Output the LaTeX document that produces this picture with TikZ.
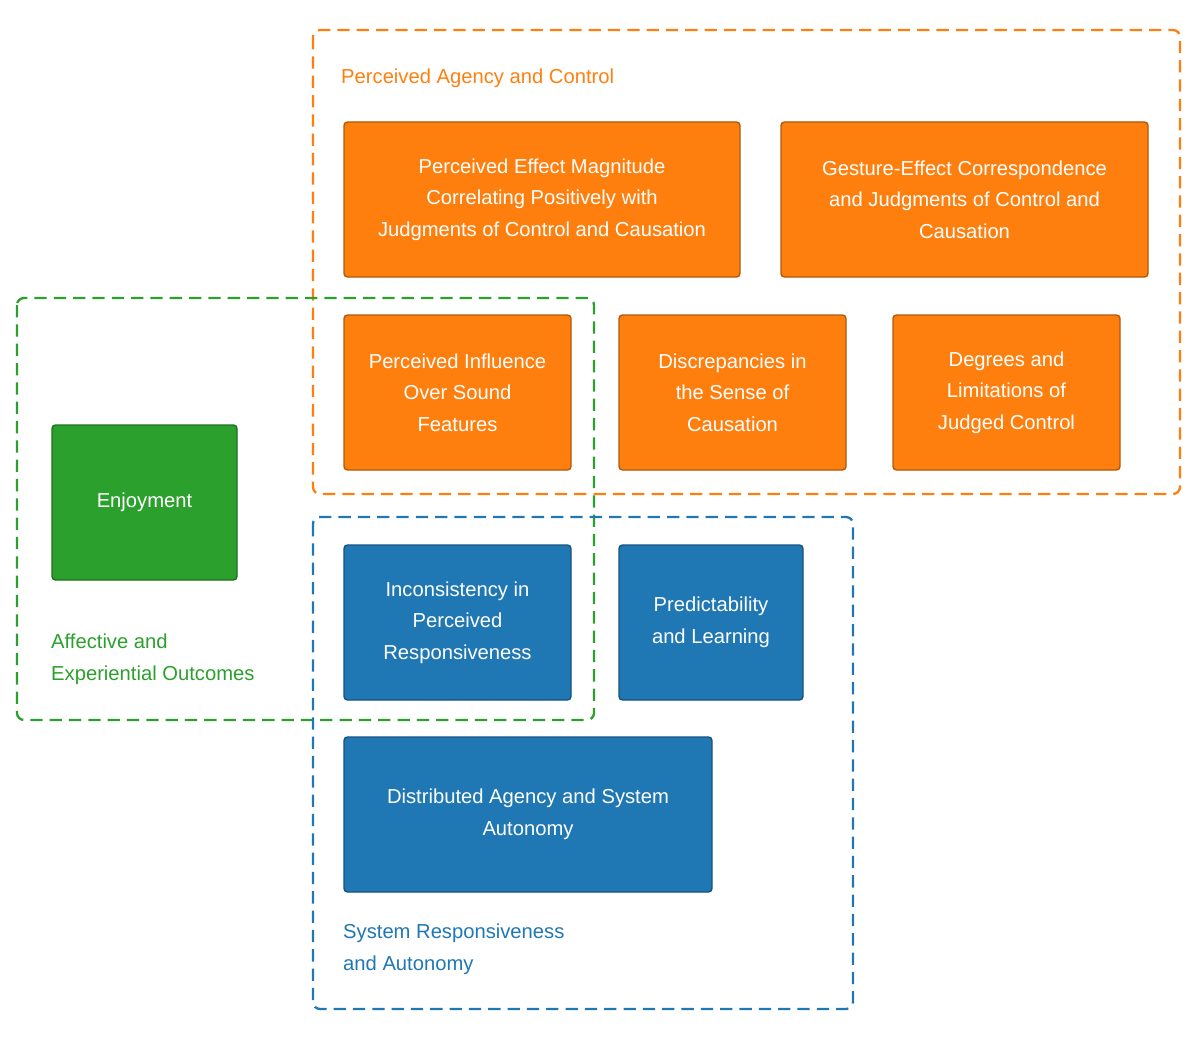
\documentclass[tikz,border=0pt]{standalone}
\usepackage{fontspec}
\setmainfont{Liberation Sans}
\begin{document}
\begin{tikzpicture}[x=0.02cm,y=-0.02cm,
  grp/.style={draw=#1,dashed,line width=1.3pt,rounded corners=4pt,dash pattern=on 7pt off 4pt},
  bx/.style={fill=#1,draw=#1!70!black,line width=0.8pt,rounded corners=2pt,text=white,align=center,font=\fontsize{11.5}{18}\selectfont},
  lbl/.style={text=#1,anchor=north west,align=left,font=\fontsize{11.5}{18}\selectfont}]
\definecolor{cor}{HTML}{FF7F0E}\definecolor{cgr}{HTML}{2CA02C}\definecolor{cbl}{HTML}{1F77B4}
\useasboundingbox (0,0) rectangle (1200,1037);
\draw[grp=cor] (313,30) rectangle (1180,494);
\node[lbl=cor] (la) at (335,63) {Perceived Agency and Control};
\draw[grp=cgr] (17,298) rectangle (594,720);
\node[lbl=cgr] (lb) at (45,628) {Affective and\\Experiential Outcomes};
\draw[grp=cbl] (313,517) rectangle (853,1009);
\node[lbl=cbl] (lc) at (337,918) {System Responsiveness\\and Autonomy};
\newcommand\bxat[6]{\path[bx=#5] (#1,#2) rectangle (#3,#4) node[bx=#5,fill=none,draw=none,midway] {#6};}
\bxat{344}{122}{740}{277}{cor}{Perceived Effect Magnitude\\Correlating Positively with\\Judgments of Control and Causation}
\bxat{781}{122}{1148}{277}{cor}{Gesture-Effect Correspondence\\and Judgments of Control and\\Causation}
\bxat{344}{315}{571}{470}{cor}{Perceived Influence\\Over Sound\\Features}
\bxat{619}{315}{846}{470}{cor}{Discrepancies in\\the Sense of\\Causation}
\bxat{893}{315}{1120}{470}{cor}{Degrees and\\Limitations of\\Judged Control}
\bxat{52}{425}{237}{580}{cgr}{Enjoyment}
\bxat{344}{545}{571}{700}{cbl}{Inconsistency in\\Perceived\\Responsiveness}
\bxat{619}{545}{803}{700}{cbl}{Predictability\\and Learning}
\bxat{344}{737}{712}{892}{cbl}{Distributed Agency and System\\Autonomy}
\end{tikzpicture}
\end{document}
